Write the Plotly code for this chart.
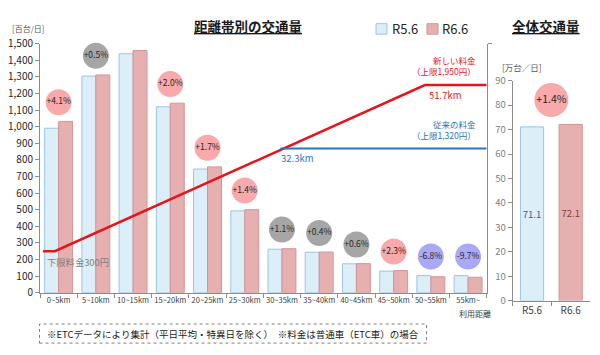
import plotly.graph_objects as go

# ---------------- data ----------------
categories = ["0~5km", "5~10km", "10~15km", "15~20km", "20~25km", "25~30km",
              "30~35km", "35~40km", "40~45km", "45~50km", "50~55km", "55km~"]
r5_6 = [991, 1305, 1440, 1120, 745, 493, 262, 244, 174, 130, 103, 103]
r6_6 = [1032, 1312, 1459, 1142, 758, 500, 265, 245, 175, 133, 96, 93]
changes = ["+4.1%", "+0.5%", "+1.3%", "+2.0%", "+1.7%", "+1.4%",
           "+1.1%", "+0.4%", "+0.6%", "+2.3%", "-6.8%", "-9.7%"]
change_kind = ["up", "flat", "flat", "up", "up", "up",
               "flat", "flat", "flat", "up", "down", "down"]

total_labels = ["R5.6", "R6.6"]
total_values = [71.1, 72.1]
total_change = "+1.4%"

new_toll_km = [0.4, 2.0, 51.7, 60]
new_toll_yen = [300, 300, 1950, 1950]
old_toll_km = [32.3, 60]
old_toll_yen = [1320, 1320]

# ---------------- styling ----------------
W, H = 600, 355
OFF = 8  # page body margin
FONT = "Noto Sans CJK JP"
BLUE_FILL, BLUE_LINE = "#DCEEF7", "#9DC3E6"
RED_FILL, RED_LINE = "#E6B0B0", "#D49494"
BADGE = {"up": "#F7A9AB", "flat": "#A6A6A6", "down": "#A9A9F7"}
TOLL_RED, TOLL_BLUE = "#E8141C", "#2E75B6"


def px(x):
    return (x - OFF) / W


def py(y):
    return 1 - (y - OFF) / H


fig = go.Figure()

# left chart bars
fig.add_trace(go.Bar(x=categories, y=r5_6, name="R5.6", xaxis="x", yaxis="y",
                     marker=dict(color=BLUE_FILL, line=dict(color=BLUE_LINE, width=1)),
                     showlegend=False))
fig.add_trace(go.Bar(x=categories, y=r6_6, name="R6.6", xaxis="x", yaxis="y",
                     marker=dict(color=RED_FILL, line=dict(color=RED_LINE, width=1)),
                     showlegend=False))

# change badges
badge_y = [max(a, b) + 115 for a, b in zip(r5_6, r6_6)]
fig.add_trace(go.Scatter(x=categories, y=badge_y, mode="markers+text", xaxis="x", yaxis="y",
                         marker=dict(size=26, color=[BADGE[k] for k in change_kind], line=dict(width=0)),
                         text=changes, textposition="middle center",
                         textfont=dict(family=FONT, size=8.5, color="#262626"),
                         cliponaxis=False, showlegend=False, hoverinfo="skip"))

# toll lines
fig.add_trace(go.Scatter(x=new_toll_km, y=new_toll_yen, mode="lines", xaxis="x3", yaxis="y3",
                         line=dict(color=TOLL_RED, width=2.5), showlegend=False))
fig.add_trace(go.Scatter(x=old_toll_km, y=old_toll_yen, mode="lines", xaxis="x3", yaxis="y3",
                         line=dict(color=TOLL_BLUE, width=2), showlegend=False))

# right chart
fig.add_trace(go.Bar(x=total_labels, y=total_values, xaxis="x2", yaxis="y2", width=0.6,
                     marker=dict(color=[BLUE_FILL, RED_FILL],
                                 line=dict(color=[BLUE_LINE, RED_LINE], width=1)),
                     text=[f"{v}" for v in total_values], textposition="inside",
                     insidetextanchor="middle", textangle=0, constraintext="none",
                     textfont=dict(family=FONT, size=9.5, color=["#3A5F8A", "#8B3A3A"]),
                     showlegend=False))
# badge between the two totals (hidden linear axis over the category axis)
fig.add_trace(go.Scatter(x=[0.5], y=[max(total_values) + 10], mode="markers+text",
                         xaxis="x4", yaxis="y2",
                         marker=dict(size=34, color=BADGE["up"], line=dict(width=0)),
                         text=[total_change], textposition="middle center",
                         textfont=dict(family=FONT, size=10.5, color="#262626"),
                         cliponaxis=False, showlegend=False, hoverinfo="skip"))

axis_line = "#8C8C8C"
fig.update_layout(
    width=W, height=H, margin=dict(l=0, r=0, t=0, b=0),
    paper_bgcolor="white", plot_bgcolor="rgba(0,0,0,0)",
    font=dict(family=FONT, color="#262626"),
    barmode="group", bargap=0.25, bargroupgap=0,
    xaxis=dict(domain=[px(40), px(486.7)], type="category", range=[-0.5, len(categories) - 0.5],
               showline=True, linecolor=axis_line,
               ticks="outside", tickson="boundaries", ticklen=4, tickcolor=axis_line, tickangle=0,
               tickfont=dict(size=7.5, color="#404040"), showgrid=False, fixedrange=True),
    yaxis=dict(domain=[py(296.7), py(36)], range=[0, 1500], dtick=100, tickformat=",",
               showline=True, linecolor=axis_line, ticks="outside", ticklen=4, tickcolor=axis_line,
               tickfont=dict(size=10, color="#262626"), showgrid=False, zeroline=False),
    xaxis3=dict(overlaying="x", range=[0, 60], visible=False, anchor="y3"),
    yaxis3=dict(overlaying="y", side="right", range=[-112, 2361], anchor="x3",
                showline=True, linecolor=axis_line, ticks="outside", ticklen=4, tickcolor=axis_line,
                tickvals=[2361], showticklabels=False, showgrid=False, zeroline=False),
    xaxis2=dict(domain=[px(512.7), px(590)], type="category", anchor="y2", range=[-0.5, 1.5],
                showline=True,
                linecolor=axis_line, ticks="outside", tickson="boundaries", ticklen=4, tickangle=0,
                tickcolor=axis_line, tickfont=dict(size=10, color="#404040"), showgrid=False),
    xaxis4=dict(overlaying="x2", range=[-0.5, 1.5], visible=False, anchor="y2"),
    yaxis2=dict(domain=[py(305), py(74.7)], range=[0, 90], dtick=10, anchor="x2",
                showline=True, linecolor=axis_line, ticks="outside", ticklen=4, tickcolor=axis_line,
                tickfont=dict(size=9.5, color="#7F7F7F"), showgrid=False, zeroline=False),
)

ann = []


def text(x, y, s, size, color, anchor="center"):
    ann.append(dict(x=px(x), y=py(y), xref="paper", yref="paper", text=s, showarrow=False,
                    xanchor=anchor, yanchor="middle",
                    font=dict(family=FONT, size=size, color=color)))


text(248, 17, "<b><u>距離帯別の交通量</u></b>", 13.5, "#1A1A1A")
text(546, 17, "<b><u>全体交通量</u></b>", 13.5, "#1A1A1A")
text(10, 20, "[百台/日]", 8, "#595959", "left")
text(500, 60, "[万台／日]", 8.5, "#595959", "left")
text(478, 53, "新しい料金", 8.5, TOLL_RED, "right")
text(478, 65, "（上限1,950円）", 8.5, TOLL_RED, "right")
text(445, 90, "51.7km", 9.5, TOLL_RED)
text(478, 120, "従来の料金", 8.5, TOLL_BLUE, "right")
text(478, 132, "（上限1,320円）", 8.5, TOLL_BLUE, "right")
text(297, 156, "32.3km", 9.5, TOLL_BLUE)
text(45, 265, "下限料金300円", 9.3, "#7F7F7F", "left")
text(493, 318, "利用距離", 8, "#404040", "right")
text(390, 20, "R5.6", 13, "#262626", "left")
text(440, 20, "R6.6", 13, "#262626", "left")
text(233, 339.5, "※ETCデータにより集計（平日平均・特異日を除く）　※料金は普通車（ETC車）の場合",
     9.5, "#1A1A1A")
fig.update_layout(annotations=ann)

shapes = [
    dict(type="rect", xref="paper", yref="paper", x0=px(376), x1=px(387), y0=py(26), y1=py(15),
         fillcolor=BLUE_FILL, line=dict(color=BLUE_LINE, width=1)),
    dict(type="rect", xref="paper", yref="paper", x0=px(427), x1=px(438), y0=py(26), y1=py(15),
         fillcolor=RED_FILL, line=dict(color=RED_LINE, width=1)),
    dict(type="rect", xref="paper", yref="paper", x0=px(39.5), x1=px(426.5), y0=py(349.5), y1=py(329.5),
         fillcolor="rgba(0,0,0,0)", line=dict(color="#7F7F7F", width=1, dash="dot")),
]
fig.update_layout(shapes=shapes)

fig.write_html("out.html")
